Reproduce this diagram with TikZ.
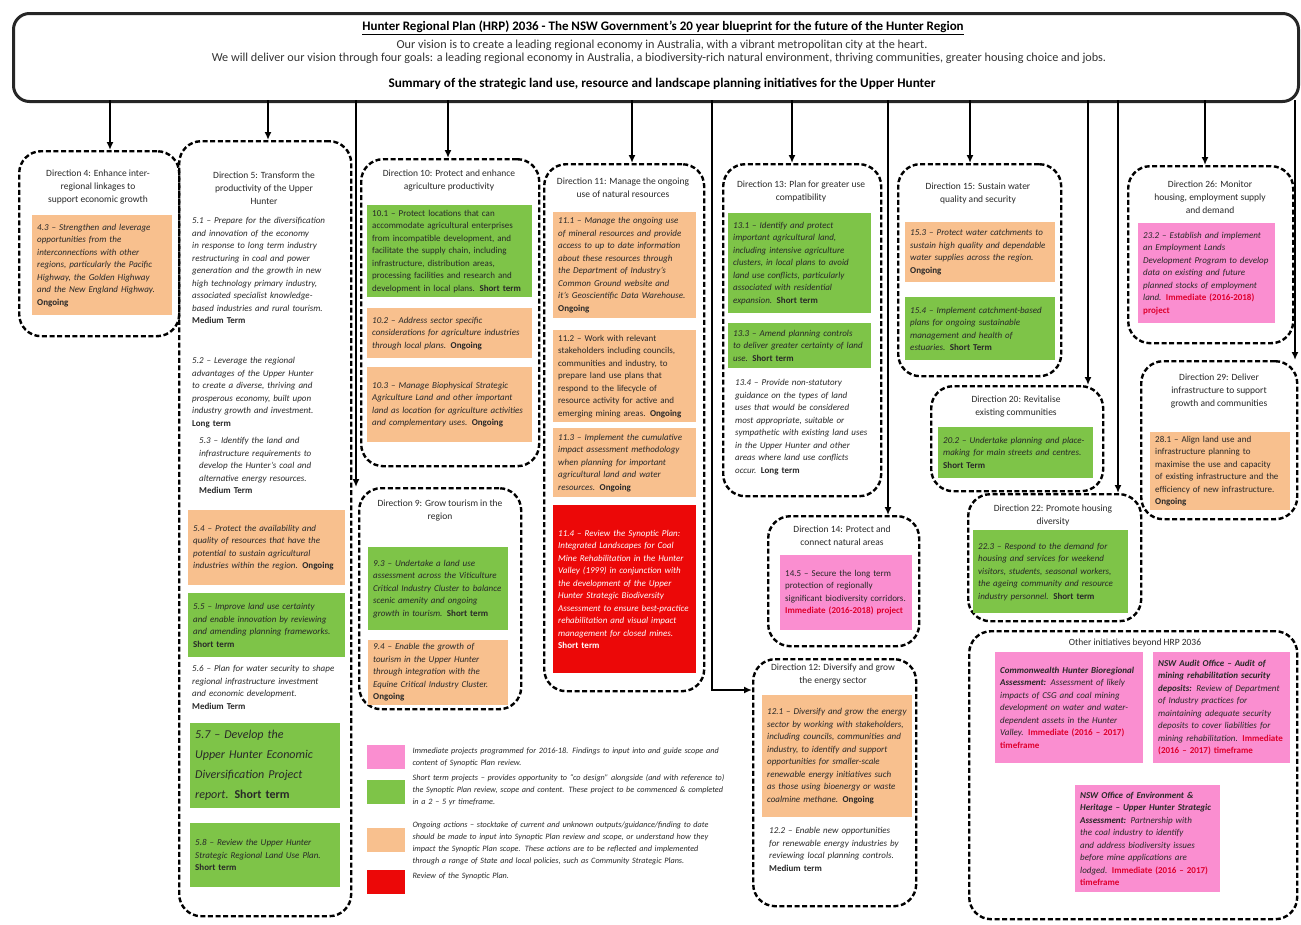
\documentclass[tikz,border=0pt]{standalone}
\usepackage{fontspec}
\setmainfont{Carlito}
\usetikzlibrary{arrows.meta}
\hyphenpenalty=10000
\definecolor{orgfill}{RGB}{248,192,142}
\definecolor{grnfill}{RGB}{126,196,72}
\definecolor{pnkfill}{RGB}{250,142,208}
\definecolor{redfill}{RGB}{236,8,8}
\definecolor{immred}{RGB}{222,0,45}
\definecolor{inkgray}{RGB}{40,40,40}
\newcommand{\term}[1]{\mbox{\bfseries\upshape #1}}
\newcommand{\immed}[1]{\textcolor{immred}{\textbf{\upshape #1}}}
\tikzset{
  dirbox/.style={draw, line width=2.4pt, dash pattern=on 5pt off 2.6pt, rounded corners=22pt, anchor=north west, inner sep=0pt},
  hdrbox/.style={draw=black!85, line width=3pt, rounded corners=16pt, anchor=north west, inner sep=0pt},
  cell/.style={anchor=north west, inner xsep=5pt, inner ysep=3.5pt, align=left, text=inkgray, font=\fontsize{9}{12.5}\selectfont\itshape},
  upright/.style={font=\fontsize{9}{12.5}\selectfont},
  org/.style={cell, fill=orgfill},
  grn/.style={cell, fill=grnfill},
  pnk/.style={cell, fill=pnkfill},
  rbox/.style={cell, fill=redfill, text=white},
  wtext/.style={cell},
  legtext/.style={cell, anchor=west, text width=315pt, font=\fontsize{8.2}{12}\selectfont\itshape},
  dirttl/.style={anchor=north, align=center, inner sep=0pt, text=inkgray, font=\fontsize{9.5}{13}\selectfont},
  arr/.style={line width=1.6pt, -{Latex[length=8pt,width=7pt]}},
  swatch/.style={anchor=north west, minimum width=38pt, minimum height=24pt, inner sep=0pt},
}
\begin{document}
\begin{tikzpicture}[x=1pt, y=-1pt]
            \useasboundingbox (0,0) rectangle (1301,924);%

            % Header with the vision
            \node[hdrbox, minimum width=1285pt, minimum height=88pt] (hdr) at (12,12) {};%
            \node[inner sep=0pt, font=\fontsize{13}{15}\selectfont\bfseries] (hdrttl) at (663,28) {\underline{Hunter Regional Plan (HRP) 2036 - The NSW Government’s 20 year blueprint for the future of the Hunter Region}};%
            \node[inner sep=0pt, text=black!80, font=\fontsize{12.2}{13}\selectfont] (hdrvis) at (662,45) {Our vision is to create a leading regional economy in Australia, with a vibrant metropolitan city at the heart.};%
            \node[inner sep=0pt, text=black!80, font=\fontsize{12.2}{13}\selectfont] (hdrgoal) at (659,58) {We will deliver our vision through four goals: a leading regional economy in Australia, a biodiversity-rich natural environment, thriving communities, greater housing choice and jobs.};%
            \node[inner sep=0pt, font=\fontsize{13.2}{15}\selectfont\bfseries] (hdrsum) at (662,84) {Summary of the strategic land use, resource and landscape planning initiatives for the Upper Hunter};%

            % Direction 4
            \node[dirbox, minimum width=160pt, minimum height=185pt] (d4) at (18,150) {};%
            \node[dirttl] (d4t) at (98,170) {Direction 4: Enhance inter-\\regional linkages to\\support economic growth};%
            \node[org, text width=130pt, minimum height=100pt] (b43) at (32,215) {4.3 – Strengthen and leverage opportunities from the interconnections with other regions, particularly the Pacific Highway, the Golden Highway and the New England Highway. \term{Ongoing}};%

            % Direction 5
            \node[dirbox, minimum width=172pt, minimum height=775pt] (d5) at (178,140) {};%
            \node[dirttl] (d5t) at (264,172) {Direction 5: Transform the\\productivity of the Upper\\Hunter};%
            \node[wtext, text width=145pt] (s51) at (187,214) {5.1 – Prepare for the diversification and innovation of the economy in response to long term industry restructuring in coal and power generation and the growth in new high technology primary industry, associated specialist knowledge-based industries and rural tourism. \term{Medium Term}};%
            \node[wtext, text width=145pt] (s52) at (187,354) {5.2 – Leverage the regional advantages of the Upper Hunter to create a diverse, thriving and prosperous economy, built upon industry growth and investment. \term{Long term}};%
            \node[wtext, text width=138pt] (s53) at (194,434) {5.3 – Identify the land and infrastructure requirements to develop the Hunter’s coal and alternative energy resources. \term{Medium Term}};%
            \node[org, text width=147pt, minimum height=75pt] (b54) at (188,510) {5.4 – Protect the availability and quality of resources that have the potential to sustain agricultural industries within the region. \term{Ongoing}};%
            \node[grn, text width=147pt, minimum height=64pt] (b55) at (188,593) {5.5 – Improve land use certainty and enable innovation by reviewing and amending planning frameworks. \term{Short term}};%
            \node[wtext, text width=145pt] (s56) at (187,662) {5.6 – Plan for water security to shape regional infrastructure investment and economic development. \term{Medium Term}};%
            \node[grn, text width=140pt, minimum height=85pt, font=\fontsize{12}{20}\selectfont\itshape] (b57) at (190,723) {5.7 – Develop the Upper Hunter Economic Diversification Project report. \term{Short term}};%
            \node[grn, text width=140pt, minimum height=64pt] (b58) at (190,823) {5.8 – Review the Upper Hunter Strategic Regional Land Use Plan. \term{Short term}};%

            % Direction 10
            \node[dirbox, minimum width=178pt, minimum height=307pt] (d10) at (360,158) {};%
            \node[dirttl] (d10t) at (449,170) {Direction 10: Protect and enhance\\agriculture productivity};%
            \node[grn, upright, text width=155pt, minimum height=92pt] (b101) at (367,205) {10.1 – Protect locations that can accommodate agricultural enterprises from incompatible development, and facilitate the supply chain, including infrastructure, distribution areas, processing facilities and research and development in local plans. \term{Short term}};%
            \node[org, text width=155pt, minimum height=50pt] (b102) at (367,308) {10.2 – Address sector specific considerations for agriculture industries through local plans. \term{Ongoing}};%
            \node[org, text width=155pt, minimum height=75pt] (b103) at (367,367) {10.3 – Manage Biophysical Strategic Agriculture Land and other important land as location for agriculture activities and complementary uses. \term{Ongoing}};%

            % Direction 9
            \node[dirbox, minimum width=162pt, minimum height=221pt] (d9) at (358,487) {};%
            \node[dirttl] (d9t) at (440,500) {Direction 9: Grow tourism in the\\region};%
            \node[grn, text width=130pt, minimum height=83pt] (b93) at (368,547) {9.3 – Undertake a land use assessment across the Viticulture Critical Industry Cluster to balance scenic amenity and ongoing growth in tourism. \term{Short term}};%
            \node[org, text width=130pt, minimum height=62pt] (b94) at (368,640) {9.4 – Enable the growth of tourism in the Upper Hunter through integration with the Equine Critical Industry Cluster. \term{Ongoing}};%

            % Direction 11
            \node[dirbox, minimum width=160pt, minimum height=527pt] (d11) at (543,163) {};%
            \node[dirttl] (d11t) at (623,178) {Direction 11: Manage the ongoing\\use of natural resources};%
            \node[org, text width=133pt, minimum height=106pt] (b111) at (553,212) {11.1 – Manage the ongoing use of mineral resources and provide access to up to date information about these resources through the Department of Industry’s Common Ground website and it’s Geoscientific Data Warehouse. \term{Ongoing}};%
            \node[org, upright, text width=133pt, minimum height=92pt] (b112) at (553,330) {11.2 – Work with relevant stakeholders including councils, communities and industry, to prepare land use plans that respond to the lifecycle of resource activity for active and emerging mining areas. \term{Ongoing}};%
            \node[org, text width=133pt, minimum height=69pt] (b113) at (553,428) {11.3 – Implement the cumulative impact assessment methodology when planning for important agricultural land and water resources. \term{Ongoing}};%
            \node[rbox, text width=133pt, minimum height=168pt] (b114) at (553,505) {11.4 – Review the Synoptic Plan: Integrated Landscapes for Coal Mine Rehabilitation in the Hunter Valley (1999) in conjunction with the development of the Upper Hunter Strategic Biodiversity Assessment to ensure best-practice rehabilitation and visual impact management for closed mines. \term{Short term}};%

            % Direction 13
            \node[dirbox, minimum width=158pt, minimum height=332pt] (d13) at (722,163) {};%
            \node[dirttl] (d13t) at (801,181) {Direction 13: Plan for greater use\\compatibility};%
            \node[grn, text width=133pt, minimum height=100pt] (b131) at (728,213) {13.1 – Identify and protect important agricultural land, including intensive agriculture clusters, in local plans to avoid land use conflicts, particularly associated with residential expansion. \term{Short term}};%
            \node[grn, text width=133pt, minimum height=45pt] (b133) at (728,323) {13.3 – Amend planning controls to deliver greater certainty of land use. \term{Short term}};%
            \node[wtext, text width=135pt] (s134) at (730,376) {13.4 – Provide non-statutory guidance on the types of land uses that would be considered most appropriate, suitable or sympathetic with existing land uses in the Upper Hunter and other areas where land use conflicts occur. \term{Long term}};%

            % Direction 14
            \node[dirbox, minimum width=151pt, minimum height=130pt] (d14) at (767,515) {};%
            \node[dirttl] (d14t) at (842,526) {Direction 14: Protect and\\connect natural areas};%
            \node[pnk, upright, text width=122pt, minimum height=75pt] (b145) at (780,555) {14.5 – Secure the long term protection of regionally significant biodiversity corridors. \immed{Immediate (2016-2018) project}};%

            % Direction 12
            \node[dirbox, minimum width=163pt, minimum height=247pt] (d12) at (752,658) {};%
            \node[dirttl] (d12t) at (833,664) {Direction 12: Diversify and grow\\the energy sector};%
            \node[org, text width=140pt, minimum height=122pt] (b121) at (762,695) {12.1 – Diversify and grow the energy sector by working with stakeholders, including councils, communities and industry, to identify and support opportunities for smaller-scale renewable energy initiatives such as those using bioenergy or waste coalmine methane. \term{Ongoing}};%
            \node[wtext, text width=142pt] (s122) at (764,824) {12.2 – Enable new opportunities for renewable energy industries by reviewing local planning controls. \term{Medium term}};%

            % Direction 15
            \node[dirbox, minimum width=163pt, minimum height=212pt] (d15) at (897,163) {};%
            \node[dirttl] (d15t) at (978,183) {Direction 15: Sustain water\\quality and security};%
            \node[org, text width=140pt, minimum height=60pt] (b153) at (905,222) {15.3 – Protect water catchments to sustain high quality and dependable water supplies across the region. \term{Ongoing}};%
            \node[grn, text width=140pt, minimum height=63pt] (b154) at (905,297) {15.4 – Implement catchment-based plans for ongoing sustainable management and health of estuaries. \term{Short Term}};%

            % Direction 20
            \node[dirbox, minimum width=172pt, minimum height=105pt] (d20) at (930,385) {};%
            \node[dirttl] (d20t) at (1016,396) {Direction 20: Revitalise\\existing communities};%
            \node[grn, text width=145pt, minimum height=51pt] (b202) at (938,427) {20.2 – Undertake planning and place-making for main streets and centres. \term{Short Term}};%

            % Direction 22
            \node[dirbox, minimum width=173pt, minimum height=127pt] (d22) at (967,493) {};%
            \node[dirttl] (d22t) at (1053,505) {Direction 22: Promote housing\\diversity};%
            \node[grn, text width=145pt, minimum height=83pt] (b223) at (973,530) {22.3 – Respond to the demand for housing and services for weekend visitors, students, seasonal workers, the ageing community and resource industry personnel. \term{Short term}};%

            % Direction 26
            \node[dirbox, minimum width=165pt, minimum height=177pt] (d26) at (1127,165) {};%
            \node[dirttl] (d26t) at (1210,181) {Direction 26: Monitor\\housing, employment supply\\and demand};%
            \node[pnk, text width=127pt, minimum height=100pt] (b232) at (1138,223) {23.2 – Establish and implement an Employment Lands Development Program to develop data on existing and future planned stocks of employment land. \immed{Immediate (2016-2018) project}};%

            % Direction 29
            \node[dirbox, minimum width=156pt, minimum height=158pt] (d29) at (1140,360) {};%
            \node[dirttl] (d29t) at (1219,374) {Direction 29: Deliver\\infrastructure to support\\growth and communities};%
            \node[org, upright, text width=130pt, minimum height=78pt] (b281) at (1150,432) {28.1 – Align land use and infrastructure planning to maximise the use and capacity of existing infrastructure and the efficiency of new infrastructure. \term{Ongoing}};%

            % Other initiatives
            \node[dirbox, minimum width=328pt, minimum height=288pt] (oth) at (968,630) {};%
            \node[dirttl] (otht) at (1135,639) {Other initiatives beyond HRP 2036};%
            \node[pnk, text width=138pt, minimum height=111pt] (p1) at (995,652) {\textbf{Commonwealth Hunter Bioregional Assessment:} Assessment of likely impacts of CSG and coal mining development on water and water-dependent assets in the Hunter Valley. \immed{Immediate (2016 – 2017) timeframe}};%
            \node[pnk, text width=127pt, minimum height=111pt] (p2) at (1153,652) {\textbf{NSW Audit Office – Audit of mining rehabilitation security deposits:} Review of Department of Industry practices for maintaining adequate security deposits to cover liabilities for mining rehabilitation. \immed{Immediate (2016 – 2017) timeframe}};%
            \node[pnk, text width=135pt, minimum height=107pt] (p3) at (1075,785) {\textbf{NSW Office of Environment \& Heritage – Upper Hunter Strategic Assessment:} Partnership with the coal industry to identify and address biodiversity issues before mine applications are lodged. \immed{Immediate (2016 – 2017) timeframe}};%

            % Legend
            \node[swatch, fill=pnkfill] (k1) at (367,745) {};%
            \node[legtext] (k1t) at ([xshift=2pt]k1.east) {Immediate projects programmed for 2016-18. Findings to input into and guide scope and content of Synoptic Plan review.};%
            \node[swatch, fill=grnfill] (k2) at (367,780) {};%
            \node[legtext] (k2t) at ([xshift=2pt,yshift=2pt]k2.east) {Short term projects – provides opportunity to “co design” alongside (and with reference to) the Synoptic Plan review, scope and content. These project to be commenced \& completed in a 2 – 5 yr timeframe.};%
            \node[swatch, fill=orgfill] (k3) at (367,828) {};%
            \node[legtext] (k3t) at ([xshift=2pt,yshift=-3pt]k3.east) {Ongoing actions – stocktake of current and unknown outputs/guidance/finding to date should be made to input into Synoptic Plan review and scope, or understand how they impact the Synoptic Plan scope. These actions are to be reflected and implemented through a range of State and local policies, such as Community Strategic Plans.};%
            \node[swatch, fill=redfill] (k4) at (367,870) {};%
            \node[legtext] (k4t) at ([xshift=2pt,yshift=6pt]k4.east) {Review of the Synoptic Plan.};%

            % Arrows from the header
            \coordinate (t1) at (110,100);%
            \coordinate (t2) at (268,100);%
            \coordinate (t3) at (356,100);%
            \coordinate (t4) at (448,100);%
            \coordinate (t5) at (632,100);%
            \coordinate (t6) at (712,100);%
            \coordinate (t7) at (792,100);%
            \coordinate (t8) at (888,100);%
            \coordinate (t9) at (970,100);%
            \coordinate (t10) at (1088,100);%
            \coordinate (t11) at (1118,100);%
            \coordinate (t12) at (1205,100);%
            \coordinate (t13) at (1295,100);%
            \coordinate (e6) at (d12.west |- 0,690);%
            \draw[arr] (t1) -- (t1 |- d4.north);%
            \draw[arr] (t2) -- (t2 |- d5.north);%
            \draw[arr] (t3) -- (t3 |- d9.north);%
            \draw[arr] (t4) -- (t4 |- d10.north);%
            \draw[arr] (t5) -- (t5 |- d11.north);%
            \draw[arr] (t6) |- (e6);%
            \draw[arr] (t7) -- (t7 |- d13.north);%
            \draw[arr] (t8) -- (t8 |- d14.north);%
            \draw[arr] (t9) -- (t9 |- d15.north);%
            \draw[arr] (t10) -- (t10 |- d20.north);%
            \draw[arr] (t11) -- (t11 |- d22.north);%
            \draw[arr] (t12) -- (t12 |- d26.north);%
            \draw[arr] (t13) -- (t13 |- d29.north);%
\end{tikzpicture}
\end{document}
